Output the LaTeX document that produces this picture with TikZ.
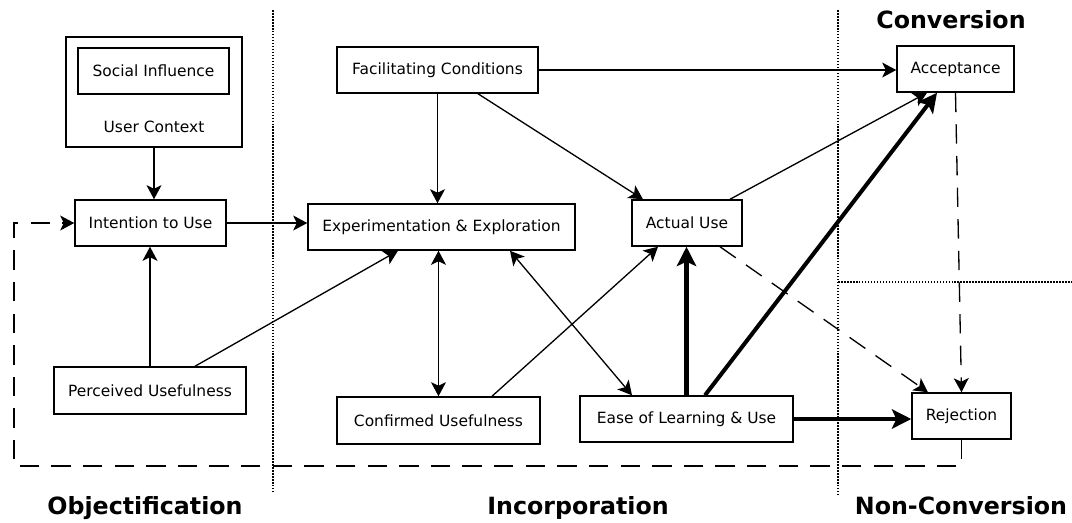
\documentclass[tikz,border=0pt]{standalone}
\usepackage{fontspec}
\setmainfont{DejaVu Sans}
\usetikzlibrary{arrows.meta}

\begin{document}
\begin{tikzpicture}[x=0.02cm,y=-0.02cm,
  box/.style={draw,line width=0.85pt,inner sep=0pt,font=\fontsize{8.8}{10.5}\selectfont},
  flow/.style={line width=0.75pt,-{Stealth[length=8pt,width=8.5pt,inset=2pt]}},
  both/.style={line width=0.75pt,{Stealth[length=8pt,width=8.5pt,inset=2pt]}-{Stealth[length=8pt,width=8.5pt,inset=2pt]}},
  heavy/.style={line width=2.3pt,-{Stealth[length=11pt,width=11pt,inset=2.5pt]}},
  loose/.style={line width=0.75pt,dash pattern=on 11pt off 7pt,-{Stealth[length=8pt,width=8.5pt,inset=2pt]}},
  divider/.style={line width=1pt,dash pattern=on 0.9pt off 0.8pt},
  phase/.style={anchor=base,inner sep=0pt,font=\fontsize{13.5}{16}\selectfont\bfseries}]
\useasboundingbox (0,0) rectangle (1072,522);

% phase dividers
\draw[divider] (273,10) -- (273,492);
\draw[divider] (838,10) -- (838,495);
\draw[divider] (838,282) -- (1072,282);

% boxes
\node[box,minimum width=3.52cm,minimum height=2.2cm] (ctx) at (154,92) {};
\node[box,minimum width=3.02cm,minimum height=0.92cm] (social) at (153.5,71) {Social Influence};
\node[font=\fontsize{8.8}{10.5}\selectfont] (ctxlabel) at (154,127) {User Context};
\node[box,minimum width=3.02cm,minimum height=0.92cm] (intent) at (150.5,223) {Intention to Use};
\node[box,minimum width=3.84cm,minimum height=0.94cm] (perceived) at (150,390.5) {Perceived Usefulness};
\node[box,minimum width=4.02cm,minimum height=0.92cm] (facil) at (437.5,70) {Facilitating Conditions};
\node[box,minimum width=5.34cm,minimum height=0.92cm] (explore) at (441.5,227) {Experimentation \& Exploration};
\node[box,minimum width=2.2cm,minimum height=0.92cm] (actual) at (687,223) {Actual Use};
\node[box,minimum width=4.06cm,minimum height=0.94cm] (confirmed) at (438.5,420.5) {Confirmed Usefulness};
\node[box,minimum width=4.26cm,minimum height=0.92cm] (ease) at (686.5,419) {Ease of Learning \& Use};
\node[box,minimum width=2.34cm,minimum height=0.92cm] (accept) at (955.5,69) {Acceptance};
\node[box,minimum width=1.98cm,minimum height=0.92cm] (reject) at (961.5,416) {Rejection};

% phase names
\node[phase] (objlabel) at (145,514) {Objectification};
\node[phase] (inclabel) at (578,514) {Incorporation};
\node[phase] (nonlabel) at (961,514) {Non-Conversion};
\node[phase] (convlabel) at (951,28) {Conversion};

% connectors
\draw[flow] (ctx.south) -- (ctx.south |- intent.north);
\draw[flow] (perceived.north) -- (perceived.north |- intent.south);
\draw[flow] (intent.east) -- (intent.east -| explore.west);
\draw[flow] ([xshift=0.9cm]perceived.north) -- ([xshift=-0.87cm]explore.south);
\draw[flow] (facil.east) -- (facil.east -| accept.west);
\draw[flow] (facil.south) -- (facil.south |- explore.north);
\draw[flow] ([xshift=0.81cm]facil.south) -- ([xshift=-0.88cm]actual.north);
\draw[both] (confirmed.north |- explore.south) -- (confirmed.north);
\draw[both] ([xshift=1.37cm]explore.south) -- ([xshift=-1.09cm]ease.north);
\draw[flow] ([xshift=1.07cm]confirmed.north) -- ([xshift=-0.58cm]actual.south);
\draw[flow] ([xshift=0.86cm]actual.north) -- ([xshift=-0.57cm]accept.south);
\draw[heavy] (ease.north) -- (ease.north |- actual.south);
\draw[heavy] ([xshift=0.37cm]ease.north) -- ([xshift=-0.37cm]accept.south);
\draw[heavy] (ease.east) -- (ease.east -| reject.west);
\draw[loose] ([xshift=0.66cm]actual.south) -- ([xshift=-0.67cm]reject.north);
\draw[loose] (accept.south) -- (reject.north);

% back to intention
\coordinate (loopcorner) at (14,466);
\draw[loose] (reject.south) |- (loopcorner) |- (intent.west);
\end{tikzpicture}
\end{document}
